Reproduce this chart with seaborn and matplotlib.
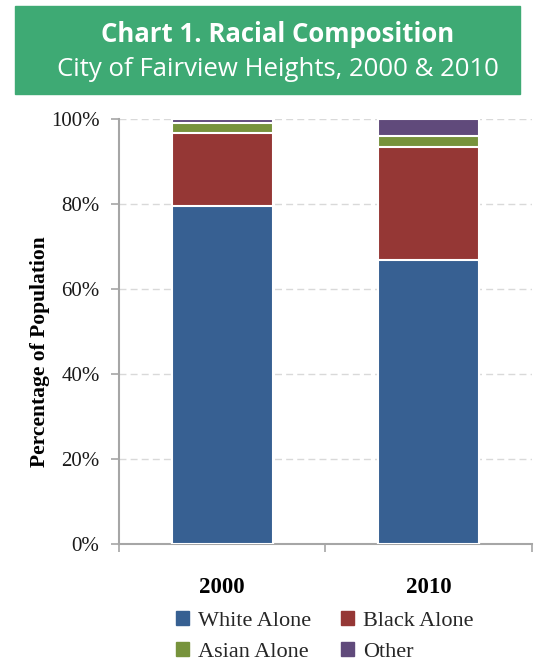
# Chart 1 - racial composition, Fairview Heights 2000 & 2010

import matplotlib.pyplot as plt
import matplotlib.patches as mpatches
import matplotlib.ticker as mticker
import numpy as np
import pandas as pd
import seaborn as sns

years = ['2000', '2010']
groups = ['White Alone', 'Black Alone', 'Asian Alone', 'Other']
white = [79.6, 66.8]
black = [17.2, 26.5]
asian = [2.2, 2.7]
other = [1.0, 4.0]
colors = ['#376092', '#953735', '#77933C', '#604A7B']

sns.set_theme(style='white')
plt.rcParams['font.family'] = ['Liberation Serif', 'DejaVu Serif']

fig = plt.figure(figsize=(5.35, 6.64), dpi=100)
ax = fig.add_axes([0.2224, 0.1807, 0.7720, 0.6401])

# stacked bars: draw cumulative totals, tallest first
df = pd.DataFrame({'year': years, 'White Alone': white, 'Black Alone': black,
                   'Asian Alone': asian, 'Other': other})
cum = df[groups].cumsum(axis=1)
for g, c in reversed(list(zip(groups, colors))):
    sns.barplot(x=df['year'], y=cum[g], color=c, width=0.49, saturation=1,
                edgecolor='white', linewidth=1.5, ax=ax, zorder=3)

ax.set_ylim(0, 100)
ax.set_xlim(-0.5, 1.5)
ax.yaxis.set_major_locator(mticker.MultipleLocator(20))
ax.yaxis.set_major_formatter(mticker.FuncFormatter(lambda v, p: f'{v:.0f}%'))
ax.grid(axis='y', color='#d9d9d9', linestyle=(0, (5, 3)), linewidth=1, zorder=0)
ax.set_axisbelow(True)

for s in ['top', 'right']:
    ax.spines[s].set_visible(False)
for s in ['left', 'bottom']:
    ax.spines[s].set_color('#a6a6a6')
    ax.spines[s].set_linewidth(1.5)

ax.tick_params(axis='y', which='major', left=True, length=6, width=1.2,
               color='#a6a6a6', labelsize=15, pad=8, labelcolor='#1a1a1a')
ax.set_xticks([0, 1])
ax.set_xticklabels(years, fontsize=16.5, fontweight='bold', color='black')
ax.tick_params(axis='x', which='major', length=0, pad=24)
ax.set_xticks([-0.5, 0.5, 1.5], minor=True)
ax.tick_params(axis='x', which='minor', bottom=True, length=6, width=1.2,
               color='#a6a6a6')

ax.set_xlabel('')
ax.set_ylabel('Percentage of Population', fontsize=15.5, fontweight='bold',
              color='black')
ax.yaxis.set_label_coords(-0.168, 0.452)

# legend filled column-wise, so order handles to read row-wise like the original
handles = [mpatches.Patch(color=c, label=g) for g, c in zip(groups, colors)]
handles = [handles[0], handles[2], handles[1], handles[3]]
fig.legend(handles=handles, ncol=2, loc='center', bbox_to_anchor=(0.607, 0.0415),
           frameon=False, fontsize=16, handlelength=0.6, handleheight=0.6,
           handletextpad=0.4, columnspacing=1.35, labelspacing=0.5)

# title banner
fig.patches.append(mpatches.Rectangle((15 / 535, 1 - 94 / 664), 505 / 535, 88 / 664,
                                      transform=fig.transFigure, color='#3EAA74',
                                      zorder=0))
fig.text(278 / 535, 1 - 35 / 664, 'Chart 1. Racial Composition', ha='center', va='center',
         fontsize=18.5, fontweight='bold', color='white', family=['Open Sans', 'DejaVu Sans'])
fig.text(278 / 535, 1 - 70 / 664, 'City of Fairview Heights, 2000 & 2010', ha='center',
         va='center', fontsize=18.5, color='white', family=['Open Sans', 'DejaVu Sans'])

fig.savefig('out.png', dpi=100)
